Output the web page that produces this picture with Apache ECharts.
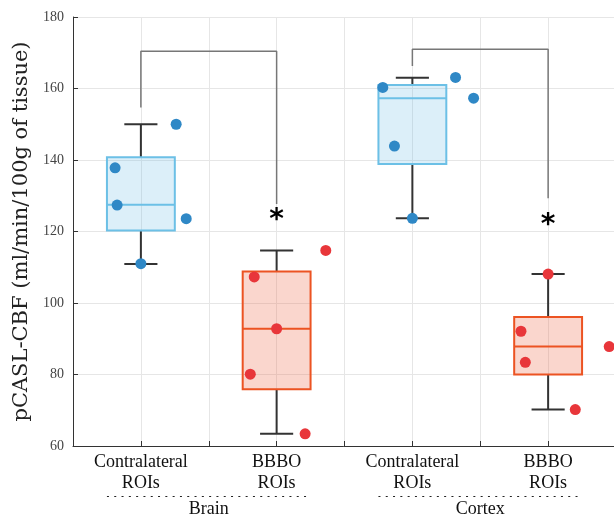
<!DOCTYPE html>
<html><head><meta charset="utf-8">
<script src="https://cdn.jsdelivr.net/npm/echarts@6/dist/echarts.min.js"></script>
<style>html,body{margin:0;padding:0;background:#fff}#c{width:614px;height:517px}</style>
</head><body><div id="c"></div>
<script>
// ---- data ----
const categories = ['Contralateral\nROIs', 'BBBO\nROIs', 'Contralateral\nROIs', 'BBBO\nROIs'];
const groups = ['Brain', 'Cortex'];
const yTicks = [60, 80, 100, 120, 140, 160, 180];
// box stats: [whiskerLow, q1, median, q3, whiskerHigh]
const boxBrainContra = [110.9, 120.3, 127.5, 140.8, 150.0];
const boxBrainBBBO   = [63.4, 75.9, 92.8, 108.8, 114.7];
const boxCortexContra= [123.7, 138.9, 157.3, 161.0, 163.0];
const boxCortexBBBO  = [70.2, 80.0, 87.8, 96.1, 108.1];
// individual points (values) and their jitter offsets (category units)
const ptsBrainContra = [150.0, 137.8, 127.4, 123.6, 111.0];
const jitBrainContra = [0.26, -0.19, -0.175, 0.334, 0.0];
const ptsBrainBBBO   = [114.7, 107.3, 92.8, 80.1, 63.4];
const jitBrainBBBO   = [0.362, -0.165, 0.0, -0.194, 0.21];
const ptsCortexContra= [160.3, 163.1, 157.3, 143.9, 123.7];
const jitCortexContra= [-0.218, 0.318, 0.451, -0.132, 0.0];
const ptsCortexBBBO  = [108.1, 92.1, 83.4, 87.8, 70.2];
const jitCortexBBBO  = [0.0, -0.2, -0.168, 0.45, 0.2];
// significance brackets: [x, y] in data units
const bracketBrain  = [[1, 154.7], [1, 170.4], [2, 170.4], [2, 127.7]];
const bracketCortex = [[3, 166.3], [3, 171.0], [4, 171.0], [4, 129.3]];
const stars = [[2, 124.6], [4, 123.3]];

// ---- build ----
const boxes = [boxBrainContra, boxBrainBBBO, boxCortexContra, boxCortexBBBO];
const boxData = boxes.map((b, i) => [i + 1].concat(b).concat([i % 2]));
function pts(vals, jit, c) { return vals.map((v, i) => [c + jit[i], v]); }
const contraPts = pts(ptsBrainContra, jitBrainContra, 1).concat(pts(ptsCortexContra, jitCortexContra, 3));
const bbboPts = pts(ptsBrainBBBO, jitBrainBBBO, 2).concat(pts(ptsCortexBBBO, jitCortexBBBO, 4));

const styles = [
  { fill: 'rgba(120,195,230,0.26)', stroke: '#6cc0e6' },
  { fill: 'rgba(238,120,90,0.30)', stroke: '#ec5322' }
];
const serif = 'Liberation Serif';
const chart = echarts.init(document.getElementById('c'));
chart.setOption({
  animation: false,
  grid: { left: 73, right: -2, top: 17, bottom: 71, containLabel: false, outerBoundsMode: 'none' },
  xAxis: {
    type: 'value', min: 0.5, max: 4.5, interval: 0.5,
    axisLine: { show: true, lineStyle: { color: '#333', width: 1 } },
    axisTick: { show: true, inside: true, length: 5, lineStyle: { color: '#333' } },
    splitLine: { show: true, lineStyle: { color: '#e6e6e6', width: 1 } },
    axisLabel: {
      margin: 6, fontFamily: serif, fontSize: 18, color: '#111', lineHeight: 21,
      showMinLabel: true, showMaxLabel: true,
      formatter: v => (Math.abs(v - Math.round(v)) < 1e-6 && v >= 1 && v <= 4) ? categories[Math.round(v) - 1] : ''
    }
  },
  yAxis: {
    type: 'value', min: 60, max: 180, interval: 20,
    name: 'pCASL-CBF (ml/min/100g of tissue)', nameLocation: 'middle', nameGap: 38,
    nameTextStyle: { fontFamily: 'DejaVu Serif', fontSize: 21, color: '#222' },
    axisLine: { show: true, lineStyle: { color: '#333', width: 1 } },
    axisTick: { show: true, inside: true, length: 5, lineStyle: { color: '#333' } },
    splitLine: { show: true, lineStyle: { color: '#e6e6e6', width: 1 } },
    axisLabel: { margin: 9, fontFamily: serif, fontSize: 14, color: '#444' }
  },
  series: [
    {
      type: 'custom', data: boxData, z: 2,
      renderItem: function (params, api) {
        const x = api.value(0);
        const st = styles[api.value(6)];
        const unit = api.size([1, 0])[0];
        const hw = unit * 0.25, cw = unit * 0.122;
        const cx = api.coord([x, 0])[0];
        const py = k => api.coord([x, api.value(k)])[1];
        const wl = py(1), q1 = py(2), md = py(3), q3 = py(4), wh = py(5);
        const wStyle = { stroke: '#333', lineWidth: 2 };
        return {
          type: 'group', children: [
            { type: 'line', shape: { x1: cx, y1: q3, x2: cx, y2: wh }, style: wStyle },
            { type: 'line', shape: { x1: cx, y1: q1, x2: cx, y2: wl }, style: wStyle },
            { type: 'line', shape: { x1: cx - cw, y1: wh, x2: cx + cw, y2: wh }, style: wStyle },
            { type: 'line', shape: { x1: cx - cw, y1: wl, x2: cx + cw, y2: wl }, style: wStyle },
            { type: 'rect', shape: { x: cx - hw, y: q3, width: 2 * hw, height: q1 - q3 },
              style: { fill: st.fill, stroke: st.stroke, lineWidth: 2 } },
            { type: 'line', shape: { x1: cx - hw, y1: md, x2: cx + hw, y2: md },
              style: { stroke: st.stroke, lineWidth: 2 } }
          ]
        };
      }
    },
    { type: 'line', data: bracketBrain, symbol: 'none', silent: true, z: 1,
      lineStyle: { color: '#777', width: 1.5 } },
    { type: 'line', data: bracketCortex, symbol: 'none', silent: true, z: 1,
      lineStyle: { color: '#777', width: 1.5 } },
    { type: 'scatter', data: contraPts, symbolSize: 11, z: 5, itemStyle: { color: '#2f88c6', opacity: 1 } },
    { type: 'scatter', data: bbboPts, symbolSize: 11, z: 5, itemStyle: { color: '#e8363a', opacity: 1 } },
    {
      type: 'custom', data: stars, z: 6, silent: true,
      renderItem: function (params, api) {
        const p = api.coord([api.value(0), api.value(1)]);
        return { type: 'text', x: p[0], y: p[1] - 8,
          style: { text: '*', fontFamily: 'DejaVu Sans', fontWeight: 'bold', fontSize: 28,
            fill: '#000', align: 'center', verticalAlign: 'top' } };
      }
    }
  ]
});

// group labels with dotted rules
const gy = 496.5, ty = 509;
const gfx = [];
[[0.75, 2.25, groups[0]], [2.75, 4.25, groups[1]]].forEach(g => {
  const x1 = chart.convertToPixel({ xAxisIndex: 0 }, g[0]);
  const x2 = chart.convertToPixel({ xAxisIndex: 0 }, g[1]);
  gfx.push({ type: 'line', shape: { x1: x1, y1: gy, x2: x2, y2: gy },
    style: { stroke: '#222', lineWidth: 1.2, lineDash: [2, 5.3] } });
  gfx.push({ type: 'text', x: (x1 + x2) / 2, y: ty,
    style: { text: g[2], fontFamily: serif, fontSize: 18, fill: '#111', align: 'center', verticalAlign: 'middle' } });
});
chart.setOption({ graphic: gfx });
</script></body></html>
